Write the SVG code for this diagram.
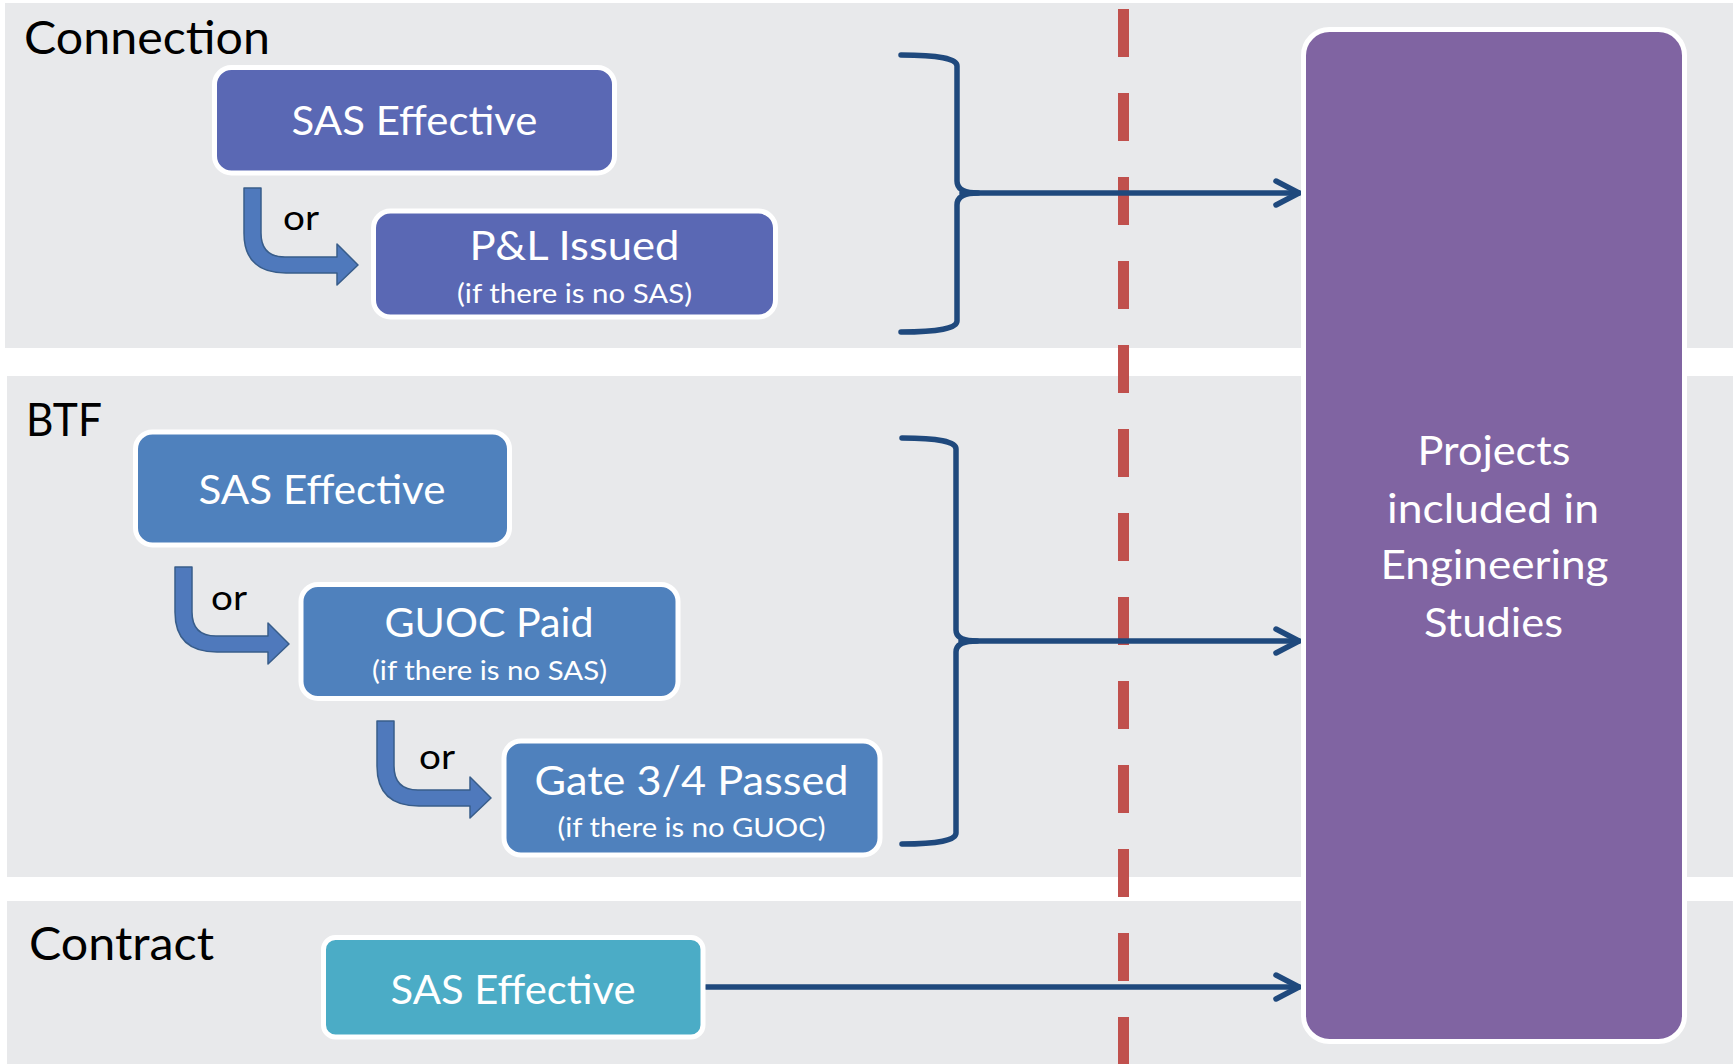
<svg xmlns="http://www.w3.org/2000/svg" width="1733" height="1064" viewBox="0 0 1733 1064">
  <defs>
    <style>
      .band{fill:#e8e9eb}
      .box{stroke:#ffffff;stroke-width:5}
      .conn{fill:#5a68b4}
      .btf{fill:#4f81bd}
      .ctr{fill:#4bacc6}
      .goal{fill:#8064a2}
      .txt{font-family:Lato,"Open Sans","Liberation Sans",sans-serif;fill:#ffffff;text-anchor:middle}
      .title{font-size:41.5px}
      .sub{font-size:27.5px}
      .big{font-size:41.5px}
      .lane{font-family:Lato,"Open Sans","Liberation Sans",sans-serif;font-size:46px;fill:#000000}
      .or{font-family:Lato,"Open Sans","Liberation Sans",sans-serif;font-size:35px;fill:#000000}
      .link{fill:none;stroke:#1f497d;stroke-width:5.5;stroke-linecap:round;stroke-linejoin:round}
      .bend{fill:#4f79bc;stroke:#385d8a;stroke-width:1.5;stroke-linejoin:round}
      .cut{stroke:#c0504d;stroke-width:11;stroke-dasharray:48 36}
    </style>
    <!-- bent block arrow used for the "or" fallbacks -->
    <path id="bend" d="M0,0 L17,0 L17,45 Q17,69 41,69 L93,69 L93,56 L114,77 L93,97 L93,85 L42,85 Q0,85 0,45 Z"/>
    <marker id="open" markerUnits="userSpaceOnUse" markerWidth="40" markerHeight="40" refX="30" refY="20" orient="auto" overflow="visible">
      <path d="M7,8 L30,20 L7,32" fill="none" stroke="#1f497d" stroke-width="5.5" stroke-linecap="round" stroke-linejoin="round"/>
    </marker>
  </defs>

  <!-- swim lanes -->
  <g id="lanes">
    <rect class="band" x="5" y="3" width="1728" height="345"/>
    <rect class="band" x="7" y="376" width="1726" height="501"/>
    <rect class="band" x="7" y="901" width="1726" height="163"/>
    <text class="lane" x="24" y="54" textLength="246" lengthAdjust="spacingAndGlyphs">Connection</text>
    <text class="lane" x="26" y="436" textLength="76" lengthAdjust="spacingAndGlyphs">BTF</text>
    <text class="lane" x="29" y="960" textLength="185" lengthAdjust="spacingAndGlyphs">Contract</text>
  </g>

  <!-- cut-off line -->
  <line id="cutoff" class="cut" x1="1123.5" y1="9" x2="1123.5" y2="1064"/>

  <!-- connectors -->
  <g id="connectors">
    <path class="link" d="M901,55 Q957,55 957,66 L957,181 Q957,193 978,193 M978,193 Q957,193 957,205 L957,321 Q957,332 901,332"/>
    <path class="link" d="M962,193 H1299" marker-end="url(#open)"/>
    <path class="link" d="M902,438 Q956,438 956,449 L956,630 Q956,641 977,641 M977,641 Q956,641 956,652 L956,833 Q956,844 902,844"/>
    <path class="link" d="M961,641 H1299" marker-end="url(#open)"/>
    <path class="link" d="M706,987 H1299" marker-end="url(#open)"/>
    <use href="#bend" class="bend" x="244" y="188"/>
    <use href="#bend" class="bend" x="175" y="567"/>
    <use href="#bend" class="bend" x="377" y="721"/>
    <text class="or" x="283" y="230" textLength="36" lengthAdjust="spacingAndGlyphs">or</text>
    <text class="or" x="211" y="610" textLength="36" lengthAdjust="spacingAndGlyphs">or</text>
    <text class="or" x="419" y="769" textLength="36" lengthAdjust="spacingAndGlyphs">or</text>
  </g>

  <!-- Connection lane -->
  <g id="conn-sas">
    <rect class="box conn" x="214.5" y="67.5" width="400" height="105.5" rx="17"/>
    <text class="txt title" x="414.5" y="135" textLength="246" lengthAdjust="spacingAndGlyphs">SAS Effective</text>
  </g>
  <g id="conn-pl">
    <rect class="box conn" x="373.5" y="211" width="402" height="106" rx="17"/>
    <text class="txt title" x="574.5" y="260" textLength="210" lengthAdjust="spacingAndGlyphs">P&amp;L Issued</text>
    <text class="txt sub" x="574.5" y="302.5" textLength="235" lengthAdjust="spacingAndGlyphs">(if there is no SAS)</text>
  </g>

  <!-- BTF lane -->
  <g id="btf-sas">
    <rect class="box btf" x="135.5" y="432" width="374" height="113" rx="17"/>
    <text class="txt title" x="322" y="503.5" textLength="247" lengthAdjust="spacingAndGlyphs">SAS Effective</text>
  </g>
  <g id="btf-guoc">
    <rect class="box btf" x="301" y="584.5" width="377" height="114" rx="17"/>
    <text class="txt title" x="489" y="636.5" textLength="209" lengthAdjust="spacingAndGlyphs">GUOC Paid</text>
    <text class="txt sub" x="489.5" y="680" textLength="235" lengthAdjust="spacingAndGlyphs">(if there is no SAS)</text>
  </g>
  <g id="btf-gate">
    <rect class="box btf" x="504" y="741" width="376" height="114" rx="17"/>
    <text class="txt title" x="691.5" y="795" textLength="314" lengthAdjust="spacingAndGlyphs">Gate 3/4 Passed</text>
    <text class="txt sub" x="691.5" y="836.5" textLength="268" lengthAdjust="spacingAndGlyphs">(if there is no GUOC)</text>
  </g>

  <!-- Contract lane -->
  <g id="ctr-sas">
    <rect class="box ctr" x="323.5" y="937.5" width="379.5" height="99.5" rx="12"/>
    <text class="txt title" x="513" y="1003.5" textLength="245" lengthAdjust="spacingAndGlyphs">SAS Effective</text>
  </g>

  <!-- outcome -->
  <g id="studies">
    <rect class="box goal" x="1303.5" y="29.5" width="381" height="1012" rx="26"/>
    <text class="txt big" x="1494" y="465" textLength="153" lengthAdjust="spacingAndGlyphs">Projects</text>
    <text class="txt big" x="1493" y="522.5" textLength="212" lengthAdjust="spacingAndGlyphs">included in</text>
    <text class="txt big" x="1494.5" y="579" textLength="228" lengthAdjust="spacingAndGlyphs">Engineering</text>
    <text class="txt big" x="1493.5" y="636.5" textLength="139" lengthAdjust="spacingAndGlyphs">Studies</text>
  </g>
</svg>
